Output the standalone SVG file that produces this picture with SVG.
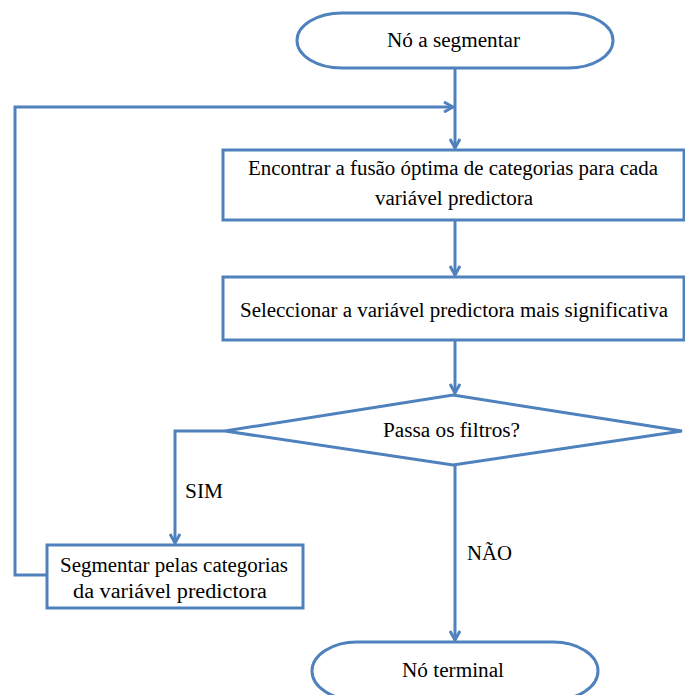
<svg xmlns="http://www.w3.org/2000/svg" width="685" height="695" viewBox="0 0 685 695">
<style>
.s{fill:#fff;stroke:#4F81BD;stroke-width:3}
.c{fill:none;stroke:#4F81BD;stroke-width:3}
text{font-family:"Liberation Serif","Times New Roman",serif;font-size:20px;fill:#000;text-anchor:middle}
.l{text-anchor:start}
</style>
<defs>
<marker id="a" markerWidth="12" markerHeight="12" refX="10" refY="6" orient="auto" markerUnits="userSpaceOnUse">
<path d="M1,1 L10,6 L1,11" fill="none" stroke="#4F81BD" stroke-width="3"/>
</marker>
</defs>
<g id="connectors">
<path class="c" d="M455,68 V148" marker-end="url(#a)"/>
<path class="c" d="M47,575 H15 V107 H453" marker-end="url(#a)"/>
<path class="c" d="M455,220 V275" marker-end="url(#a)"/>
<path class="c" d="M455,340 V393" marker-end="url(#a)"/>
<path class="c" d="M225,431 H175 V543" marker-end="url(#a)"/>
<path class="c" d="M455,465 V640" marker-end="url(#a)"/>
<text class="l" x="185" y="498" textLength="38" lengthAdjust="spacingAndGlyphs">SIM</text>
<text class="l" x="467" y="560" textLength="45" lengthAdjust="spacingAndGlyphs">NÃO</text>
</g>
<g id="start">
<rect class="s" x="297" y="13" width="316" height="55" rx="45" ry="27.5"/>
<text x="453.5" y="47" textLength="133" lengthAdjust="spacingAndGlyphs">Nó a segmentar</text>
</g>
<g id="find">
<rect class="s" x="223" y="150" width="461" height="70"/>
<text x="453" y="175" textLength="410" lengthAdjust="spacingAndGlyphs">Encontrar a fusão óptima de categorias para cada</text>
<text x="454" y="205" textLength="158" lengthAdjust="spacingAndGlyphs">variável  predictora</text>
</g>
<g id="select">
<rect class="s" x="223" y="277" width="461" height="63"/>
<text x="454" y="317" textLength="428" lengthAdjust="spacingAndGlyphs">Seleccionar a variável  predictora mais significativa</text>
</g>
<g id="decision">
<polygon class="s" points="453,395 682,431 453,465 225,431"/>
<text x="451.5" y="437" textLength="137" lengthAdjust="spacingAndGlyphs">Passa os filtros?</text>
</g>
<g id="segment">
<rect class="s" x="47" y="545" width="256" height="63"/>
<text x="174" y="572" textLength="228" lengthAdjust="spacingAndGlyphs">Segmentar pelas categorias</text>
<text x="170" y="598" textLength="194" lengthAdjust="spacingAndGlyphs">da variável predictora</text>
</g>
<g id="end">
<rect class="s" x="312" y="642" width="286" height="58" rx="45" ry="29"/>
<text x="453" y="677" textLength="102" lengthAdjust="spacingAndGlyphs">Nó terminal</text>
</g>
</svg>
